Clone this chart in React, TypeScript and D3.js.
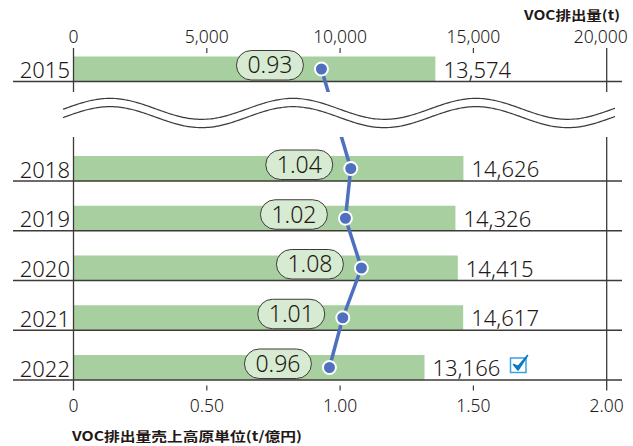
import * as d3 from "d3";

const years = ["2015", "2018", "2019", "2020", "2021", "2022"];
const emissions = [13574, 14626, 14326, 14415, 14617, 13166];
const intensity = [0.93, 1.04, 1.02, 1.08, 1.01, 0.96];
const emissionTicks = [0, 5000, 10000, 15000, 20000];
const intensityTicks = [0, 0.5, 1.0, 1.5, 2.0];
// "~" is the empty slot where the axis is broken
const slots = ["2015", "~", "2018", "2019", "2020", "2021", "2022"];
const checkedYear = "2022";

const width = 633;
const height = 446;
const font = "'Noto Sans CJK JP', 'Noto Sans', sans-serif";
const numFont = "'Noto Sans', 'Open Sans', sans-serif";
const ink = "#231815";
const rule = "#3e3a39";
const barColor = "#a7cf9f";
const pillColor = "#d6ebd1";
const lineColor = "#4f6fbf";

export default function App() {
  const left = 73.5;
  const right = 606.7;
  const x = d3.scaleLinear().domain([0, 20000]).range([left, right]);
  const x2 = d3.scaleLinear().domain([0, 2]).range([left, right]);
  const y = d3.scalePoint<string>().domain(slots).range([81.5, 380]);
  const barH = 25;

  const axisTop = 48;
  const axisBottom = 390.5;
  const breakTop = (y("2015") as number) + 10.5;
  const breakBottom = (y("2018") as number) - 44;
  const waveMid = (breakTop + breakBottom) / 2 - 1.5;

  const rows = years.map((yr, i) => ({
    year: yr,
    base: y(yr) as number,
    value: emissions[i],
    ratio: intensity[i],
  }));

  const lineGen = d3
    .line<(typeof rows)[number]>()
    .x((d) => x2(d.ratio))
    .y((d) => d.base - barH / 2);

  const waveXs = d3.range(63, 617, 2);
  const wave = (off: number) =>
    d3
      .line<number>()
      .x((v) => v)
      .y((v) => waveMid - 4.15 + off - 10.5 * Math.cos((2 * Math.PI * (v - 110)) / 183))
      .curve(d3.curveBasis)(waveXs) || "";

  return (
    <svg
      width={width}
      height={height}
      style={{ position: "absolute", left: 0, top: 0, background: "#fff" }}
      fontFamily={font}
    >
      {/* top axis title */}
      <text x={620} y={20} textAnchor="end" fontSize={13} fontWeight="bold" fill={ink}
        textLength={96} lengthAdjust="spacingAndGlyphs">
        VOC排出量(t)
      </text>

      {/* top ticks */}
      {emissionTicks.map((t, i) => (
        <g key={"tt" + t}>
          <text
            x={i === emissionTicks.length - 1 ? x(t) - 6 : x(t)}
            y={43}
            textAnchor="middle"
            fontSize={17.5}
            fontFamily={numFont}
            fontWeight={300}
            fill={ink}
          >
            {d3.format(",")(t)}
          </text>
          {t > 0 && t < 20000 && (
            <line x1={x(t)} x2={x(t)} y1={axisTop} y2={axisTop + 5} stroke={rule} strokeWidth={1.2} />
          )}
        </g>
      ))}

      {/* bars */}
      {rows.map((r) => (
        <rect key={"b" + r.year} x={x(0)} y={r.base - barH} width={x(r.value) - x(0)} height={barH} fill={barColor} />
      ))}

      {/* row rules */}
      {rows.map((r) => (
        <line key={"r" + r.year} x1={13} x2={622} y1={r.base} y2={r.base} stroke={rule} strokeWidth={1.3} />
      ))}

      {/* frame verticals */}
      {[x(0), x(20000)].map((vx, i) => (
        <line key={"v" + i} x1={vx} x2={vx} y1={axisTop} y2={axisBottom} stroke={rule} strokeWidth={1.3} />
      ))}

      {/* bottom ticks */}
      {intensityTicks.map((t) => (
        <g key={"bt" + t}>
          {t > 0 && t < 2 && (
            <line x1={x2(t)} x2={x2(t)} y1={axisBottom - 5} y2={axisBottom} stroke={rule} strokeWidth={1.2} />
          )}
          <text x={x2(t)} y={411.5} textAnchor="middle" fontSize={17.5} fontFamily={numFont} fontWeight={300} fill={ink}>
            {t === 0 ? "0" : d3.format(".2f")(t)}
          </text>
        </g>
      ))}

      {/* bottom axis title */}
      <text x={72} y={440.5} fontSize={13} fontWeight="bold" fill={ink} textLength={230} lengthAdjust="spacingAndGlyphs">
        VOC排出量売上高原単位(t/億円)
      </text>

      {/* intensity line */}
      <path d={lineGen(rows) || ""} fill="none" stroke={lineColor} strokeWidth={3.5} />

      {/* break mask and wave */}
      <rect x={0} y={breakTop} width={width} height={breakBottom - breakTop} fill="#fff" />
      <path d={wave(0)} fill="none" stroke={rule} strokeWidth={1.2} />
      <path d={wave(8.3)} fill="none" stroke={rule} strokeWidth={1.2} />

      {/* labels, pills and dots */}
      {rows.map((r) => {
        const cx = x2(r.ratio);
        const cy = r.base - barH / 2;
        const pw = 67;
        const ph = 29.5;
        const px = cx - 18 - pw;
        const py = r.base - 31;
        const vx = x(r.value) + 8;
        return (
          <g key={"l" + r.year} fontFamily={numFont} fontWeight={300}>
            <text x={70} y={r.base - 3.5} textAnchor="end" fontSize={22} fill={ink}>
              {r.year}
            </text>
            <rect x={px} y={py} width={pw} height={ph} rx={ph / 2} fill={pillColor} stroke={rule} strokeWidth={1} />
            <text x={px + pw / 2} y={py + ph / 2 + 8} textAnchor="middle" fontSize={23} fill={ink}>
              {d3.format(".2f")(r.ratio)}
            </text>
            <circle cx={cx} cy={cy} r={6.5} fill={lineColor} stroke="#fff" strokeWidth={2} />
            <text x={vx} y={r.base - 4} fontSize={22} fill={ink}>
              {d3.format(",")(r.value)}
            </text>
            {r.year === checkedYear && (
              <g transform={`translate(${vx + 78},${r.base - 22})`}>
                <rect x={0} y={0} width={15.5} height={14.5} fill="#fff" stroke="#3aa3dd" strokeWidth={1.5} />
                <path d="M3,6.5 L7.5,12 L17,-2.5 L7.5,8.5 Z" fill="#0a78c8" stroke="#0a78c8" strokeWidth={1.6} strokeLinejoin="round" />
              </g>
            )}
          </g>
        );
      })}
    </svg>
  );
}
